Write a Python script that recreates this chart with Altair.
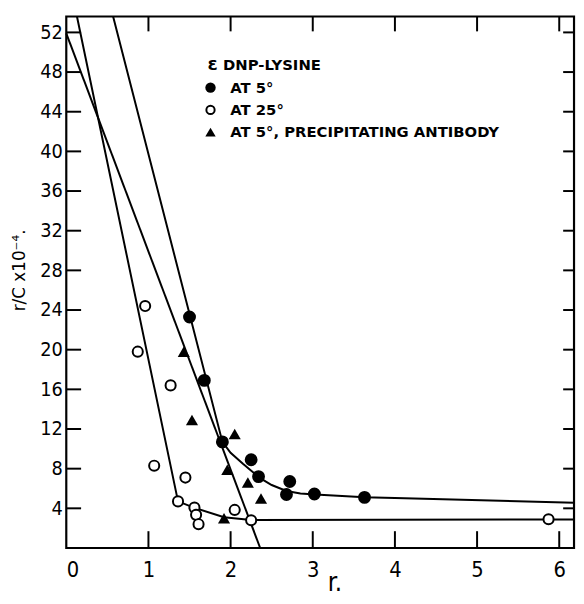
import altair as alt
import pandas as pd

# ---- data ----
filled_x = [1.50, 1.68, 1.90, 2.25, 2.34, 2.72, 2.68, 3.02, 3.63]
filled_y = [23.3, 16.9, 10.7, 8.9, 7.2, 6.7, 5.4, 5.45, 5.1]

open_x = [0.96, 0.87, 1.27, 1.07, 1.45, 1.36, 1.56, 1.58, 1.61, 2.05, 2.25, 5.87]
open_y = [24.4, 19.8, 16.4, 8.3, 7.1, 4.7, 4.07, 3.34, 2.4, 3.84, 2.8, 2.9]

tri_x = [1.43, 1.53, 2.05, 1.96, 1.92, 2.21, 2.37]
tri_y = [19.8, 12.9, 11.5, 7.9, 3.0, 6.6, 5.0]

# drawn lines (vertices)
lf_x = [0.57, 1.90, 2.00, 2.15, 2.35, 2.50, 2.68, 2.85, 3.03, 3.63, 4.00, 6.18]
lf_y = [53.6, 10.7, 9.6, 8.5, 7.1, 6.35, 5.75, 5.5, 5.4, 5.12, 5.05, 4.56]

lo_x = [0.13, 1.36, 1.56, 1.92, 2.25, 6.18]
lo_y = [53.6, 4.7, 4.05, 3.1, 2.82, 2.88]

lt_x = [0.0, 2.36]
lt_y = [51.9, 0.0]

x_labels = [0, 1, 2, 3, 4, 5, 6]
x_ticks = [1, 2, 3, 4, 5, 6]
y_ticks = [4, 8, 12, 16, 20, 24, 28, 32, 36, 40, 44, 48, 52]

legend_title = "Ɛ DNP-LYSINE"
legend_labels = ["AT 5°", "AT 25°", "AT 5°, PRECIPITATING ANTIBODY"]
y_title = "r/C x10⁻⁴."
x_title = "r."

W, H = 514, 538
XMAX, YMAX = 6.18, 53.6
FONT = "DejaVu Sans Condensed"

xs = alt.Scale(domain=[0, XMAX], nice=False, zero=False)
ys = alt.Scale(domain=[0, YMAX], nice=False, zero=False)

xaxis = alt.Axis(values=x_labels, title=None, ticks=False, domain=False, grid=False,
                 labelFont=FONT, labelFontSize=22, labelPadding=12, labelColor="black",
                 format="d")
yaxis = alt.Axis(values=y_ticks, title=None, ticks=False, domain=False, grid=False,
                 labelFont=FONT, labelFontSize=20, labelPadding=4, labelColor="black",
                 format="d")

def X(f):
    return alt.X(f, type="quantitative", scale=xs, axis=xaxis)

def Y(f):
    return alt.Y(f, type="quantitative", scale=ys, axis=yaxis)

df_f = pd.DataFrame({"x": filled_x, "y": filled_y})
df_o = pd.DataFrame({"x": open_x, "y": open_y})
df_t = pd.DataFrame({"x": tri_x, "y": tri_y})
one = pd.DataFrame({"a": [0]})

# all drawn lines plus the inward tick marks, as grouped line segments
px_x = XMAX / W
px_y = YMAX / H
rows = []
g = 0
for lx, ly in ((lf_x, lf_y), (lo_x, lo_y), (lt_x, lt_y)):
    for i, (a, b) in enumerate(zip(lx, ly)):
        rows.append({"g": g, "o": i, "x": a, "y": b})
    g += 1
for v in y_ticks:
    for (a, b) in [(0.0, 15 * px_x), (XMAX - 11 * px_x, XMAX)]:
        rows.append({"g": g, "o": 0, "x": a, "y": float(v)})
        rows.append({"g": g, "o": 1, "x": b, "y": float(v)})
        g += 1
for v in x_ticks:
    for (a, b) in [(0.0, 17 * px_y), (YMAX - 15 * px_y, YMAX)]:
        rows.append({"g": g, "o": 0, "x": float(v), "y": a})
        rows.append({"g": g, "o": 1, "x": float(v), "y": b})
        g += 1
df_lines = pd.DataFrame(rows)

lines = alt.Chart(df_lines).mark_line(color="black", strokeWidth=2).encode(
    x=X("x"), y=Y("y"), detail="g:N", order="o:Q")

pts_f = alt.Chart(df_f).mark_point(shape="circle", filled=True, color="black", size=170,
                                   opacity=1).encode(x=X("x"), y=Y("y"))
pts_o = alt.Chart(df_o).mark_point(shape="circle", filled=True, fill="white", stroke="black",
                                   strokeWidth=2, size=105, opacity=1).encode(x=X("x"), y=Y("y"))
pts_t = alt.Chart(df_t).mark_point(shape="triangle-up", filled=True, color="black", size=150,
                                   opacity=1).encode(x=X("x"), y=Y("y"))

# legend-like annotation
LX_M, LX_T = 146, 166
rows_y = [49, 72, 94.5, 117]
leg = [
    alt.Chart(one).mark_text(align="left", baseline="middle", font="DejaVu Sans", fontSize=15,
                             fontWeight="bold", color="black").encode(
        x=alt.value(143), y=alt.value(rows_y[0]), text=alt.value(legend_title))
]
for i, lab in enumerate(legend_labels):
    leg.append(alt.Chart(one).mark_text(align="left", baseline="middle", font="DejaVu Sans",
                                        fontSize=15, fontWeight="bold", color="black").encode(
        x=alt.value(LX_T), y=alt.value(rows_y[i + 1]), text=alt.value(lab)))
leg.append(alt.Chart(one).mark_point(shape="circle", filled=True, color="black", size=110,
                                     opacity=1).encode(x=alt.value(LX_M), y=alt.value(rows_y[1])))
leg.append(alt.Chart(one).mark_point(shape="circle", filled=True, fill="white", stroke="black",
                                     strokeWidth=2, size=70, opacity=1).encode(
    x=alt.value(LX_M), y=alt.value(rows_y[2])))
leg.append(alt.Chart(one).mark_point(shape="triangle-up", filled=True, color="black", size=110,
                                     opacity=1).encode(x=alt.value(LX_M), y=alt.value(rows_y[3])))

ytitle = alt.Chart(one).mark_text(angle=270, align="center", baseline="middle", font="DejaVu Sans",
                                  fontSize=17, color="black").encode(
    x=alt.value(-47), y=alt.value(257), text=alt.value(y_title))
xtitle = alt.Chart(one).mark_text(align="center", baseline="middle", font=FONT, fontSize=26,
                                  color="black").encode(
    x=alt.value(272), y=alt.value(574), text=alt.value(x_title))

chart = alt.layer(
    lines, pts_o, pts_t, pts_f, *leg, ytitle, xtitle
).properties(
    width=W, height=H,
    autosize=alt.AutoSizeParams(type="none"),
    padding={"left": 59, "top": 5, "right": 2, "bottom": 48},
    background="white",
).configure_view(stroke="black", strokeWidth=2.2)

chart.save("out.html", embed_options={"renderer": "svg", "actions": False})
